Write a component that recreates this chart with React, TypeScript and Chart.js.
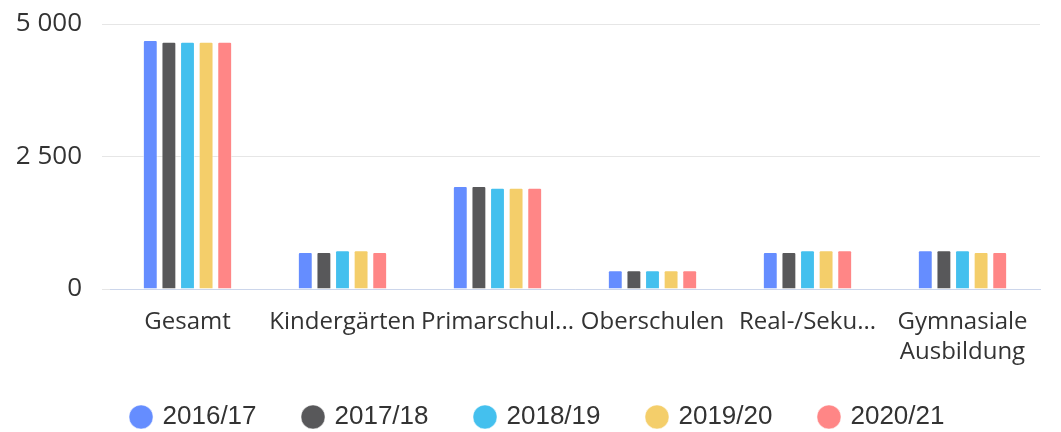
import React, { useEffect, useRef } from "react";
import { Chart, registerables } from "chart.js";

Chart.register(...registerables);

const categories: (string | string[])[] = [
  "Gesamt",
  "Kindergärten",
  "Primarschul...",
  "Oberschulen",
  "Real-/Seku...",
  ["Gymnasiale", "Ausbildung"],
];
const seriesNames = ["2016/17", "2017/18", "2018/19", "2019/20", "2020/21"];
const s2016 = [4700, 700, 1945, 355, 700, 730];
const s2017 = [4665, 700, 1945, 355, 700, 730];
const s2018 = [4665, 730, 1910, 355, 730, 730];
const s2019 = [4665, 730, 1910, 355, 730, 700];
const s2020 = [4665, 700, 1910, 355, 730, 700];
const colors = ["#658dff", "#58585a", "#44c0ee", "#f4ce6a", "#ff8686"];
const yTicks = [0, 2500, 5000];

export default function App() {
  const ref = useRef<HTMLCanvasElement | null>(null);
  useEffect(() => {
    document.body.style.margin = "0";
    const values = [s2016, s2017, s2018, s2019, s2020];
    const chart = new Chart(ref.current!, {
      type: "bar",
      data: {
        labels: categories as any,
        datasets: seriesNames.map((n, i) => ({
          label: n,
          data: values[i],
          backgroundColor: colors[i],
          borderColor: "rgba(255,255,255,0.5)",
          borderWidth: 1,
          borderRadius: 2,
          categoryPercentage: 0.6,
          barPercentage: 0.8,
        })),
      },
      options: {
        animation: false,
        responsive: false,
        maintainAspectRatio: false,
        layout: { padding: { left: 37, right: 21, top: 0, bottom: -8 } },
        plugins: {
          tooltip: { enabled: false },
          legend: {
            position: "bottom",
            labels: {
              usePointStyle: true,
              pointStyle: "circle",
              boxWidth: 17,
              boxHeight: 17,
              padding: 48,
              color: "#333333",
              font: { family: "'Liberation Sans', Arial", size: 26 },
            },
          },
        },
        scales: {
          x: {
            grid: { display: false },
            border: { color: "#ccd6eb", width: 1 },
            afterFit: (axis: any) => {
              axis.height = 67;
              axis._computeLabelArea = () => undefined;
            },
            ticks: {
              color: "#333333",
              font: { family: "'Open Sans'", size: 24, lineHeight: 1.25 },
              maxRotation: 0,
              autoSkip: false,
              padding: 10,
            },
          },
          y: {
            min: 0,
            max: 5000,
            afterBuildTicks: (axis: any) => {
              axis.ticks = yTicks.map((v) => ({ value: v }));
            },
            afterFit: (axis: any) => {
              axis.width = 73;
              axis.paddingTop = 24;
              axis.paddingBottom = 0;
              axis._computeLabelArea = () => undefined;
            },
            grid: { color: "#e6e6e6" },
            border: { display: false },
            ticks: {
              color: "#333333",
              font: { family: "'Open Sans'", size: 26 },
              padding: 20,
              callback: (v: any) =>
                Number(v).toString().replace(/\B(?=(\d{3})+(?!\d))/g, " "),
            },
          },
        },
      },
    });
    return () => chart.destroy();
  }, []);
  return (
    <div style={{ width: 1061, height: 432 }}>
      <canvas ref={ref} width={1061} height={432} />
    </div>
  );
}
